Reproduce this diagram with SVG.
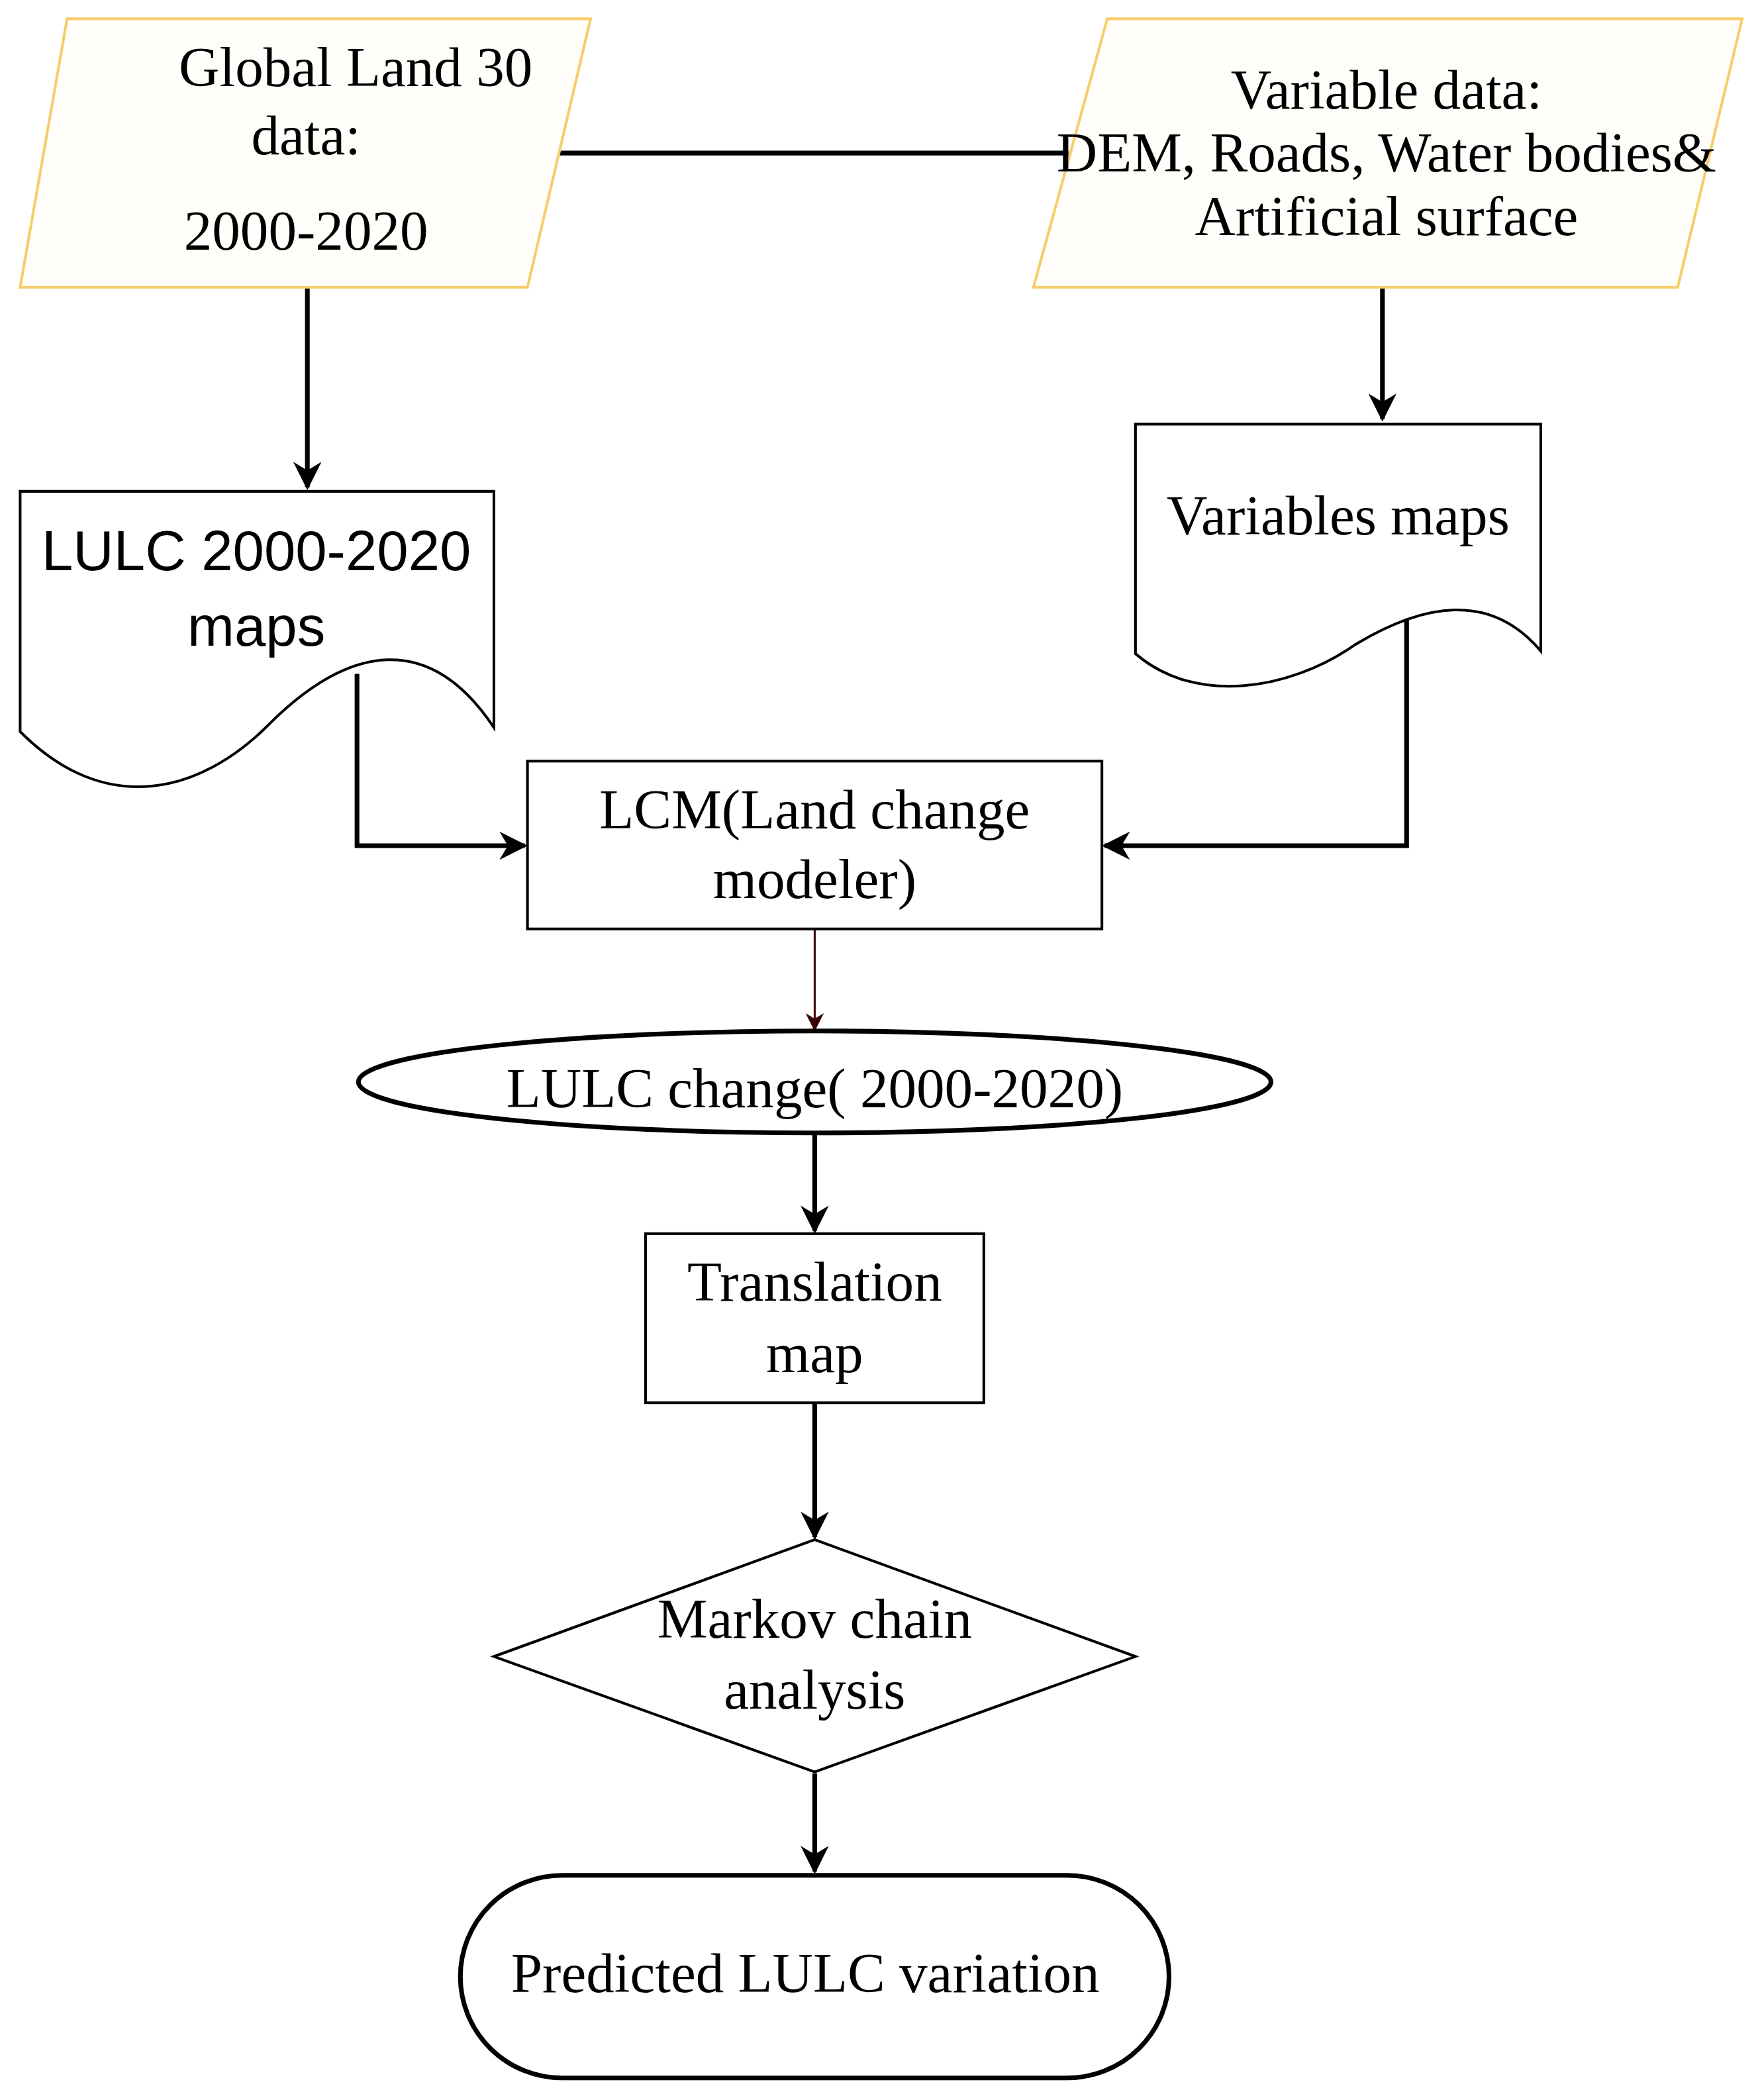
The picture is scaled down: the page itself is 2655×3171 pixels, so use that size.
<svg xmlns="http://www.w3.org/2000/svg" width="2655" height="3171" viewBox="0 0 2655 3171">
<defs>
<marker id="ah" viewBox="0 0 10 10" refX="9" refY="5" markerWidth="6" markerHeight="6" orient="auto" markerUnits="strokeWidth"><path d="M0,0 L10,5 L0,10 L3,5 z" fill="#000"/></marker>
<marker id="ahr" viewBox="0 0 10 10" refX="9" refY="5" markerWidth="9" markerHeight="9" orient="auto" markerUnits="strokeWidth"><path d="M0,0 L10,5 L0,10 L3,5 z" fill="#3a0000"/></marker>
<style>
.t{font-family:"Liberation Serif","Times New Roman",serif;font-size:42px;text-anchor:middle;fill:#000}
.s{font-family:"Liberation Sans",Arial,sans-serif;font-size:42px;text-anchor:middle;fill:#000}
.b{fill:#fff;stroke:#000;stroke-width:2}
.y{fill:#fffefa;stroke:#f7cd6a;stroke-width:2}
.c{fill:none;stroke:#000;stroke-width:3.5;marker-end:url(#ah)}
</style>
</defs>
<rect width="2655" height="3171" fill="#fff"/>
<g transform="scale(2.027)">
<g id="connectors">
<line x1="415" y1="114" x2="796" y2="114" stroke="#000" stroke-width="3.5"/>
<line x1="229" y1="214" x2="229" y2="363" class="c"/>
<line x1="1030" y1="214" x2="1030" y2="312" class="c"/>
<polyline points="266,502 266,630 391,630" class="c"/>
<polyline points="1048,462 1048,630 823,630" class="c"/>
<line x1="607" y1="692" x2="607" y2="767" stroke="#3a0000" stroke-width="1.5" marker-end="url(#ahr)"/>
<line x1="607" y1="845" x2="607" y2="917" class="c"/>
<line x1="607" y1="1045" x2="607" y2="1145" class="c"/>
<line x1="607" y1="1321" x2="607" y2="1394" class="c"/>
</g>
<g id="global">
<polygon points="50,14 440,14 393,214 15,214" class="y"/>
<text class="t" x="265" y="64">Global Land 30</text>
<text class="t" x="228" y="115">data:</text>
<text class="t" x="228" y="186">2000-2020</text>
</g>
<g id="variable">
<polygon points="825,14 1298,14 1250,214 770,214" class="y"/>
<text class="t" x="1033" y="81">Variable data:</text>
<text class="t" x="1033" y="128">DEM, Roads, Water bodies&amp;</text>
<text class="t" x="1033" y="175">Artificial surface</text>
</g>
<g id="lulcmaps">
<path d="M15,366 H368 V542 C320,470 260,480 200,540 C150,590 80,610 15,545 Z" class="b"/>
<text class="s" x="191" y="425">LULC 2000-2020</text>
<text class="s" x="191" y="481">maps</text>
</g>
<g id="varmaps">
<path d="M846,316 H1148 V485 C1110,440 1060,450 1010,480 C960,515 890,525 846,487 Z" class="b"/>
<text class="t" x="997" y="398">Variables maps</text>
</g>
<g id="lcm">
<rect x="393" y="567" width="428" height="125" class="b"/>
<text class="t" x="607" y="617">LCM(Land change</text>
<text class="t" x="607" y="669">modeler)</text>
</g>
<g id="change">
<ellipse cx="607" cy="806" rx="340" ry="38" fill="#fff" stroke="#000" stroke-width="3.5"/>
<text class="t" x="607" y="825">LULC change( 2000-2020)</text>
</g>
<g id="translation">
<rect x="481" y="919" width="252" height="126" class="b"/>
<text class="t" x="607" y="969">Translation</text>
<text class="t" x="607" y="1022">map</text>
</g>
<g id="markov">
<polygon points="607,1147 846,1234 607,1320 368,1234" class="b"/>
<text class="t" x="607" y="1220">Markov chain</text>
<text class="t" x="607" y="1273">analysis</text>
</g>
<g id="predicted">
<rect x="343" y="1397" width="528" height="151" rx="76" ry="76" fill="#fff" stroke="#000" stroke-width="3.5"/>
<text class="t" x="600" y="1484">Predicted LULC variation</text>
</g>
</g>
</svg>
